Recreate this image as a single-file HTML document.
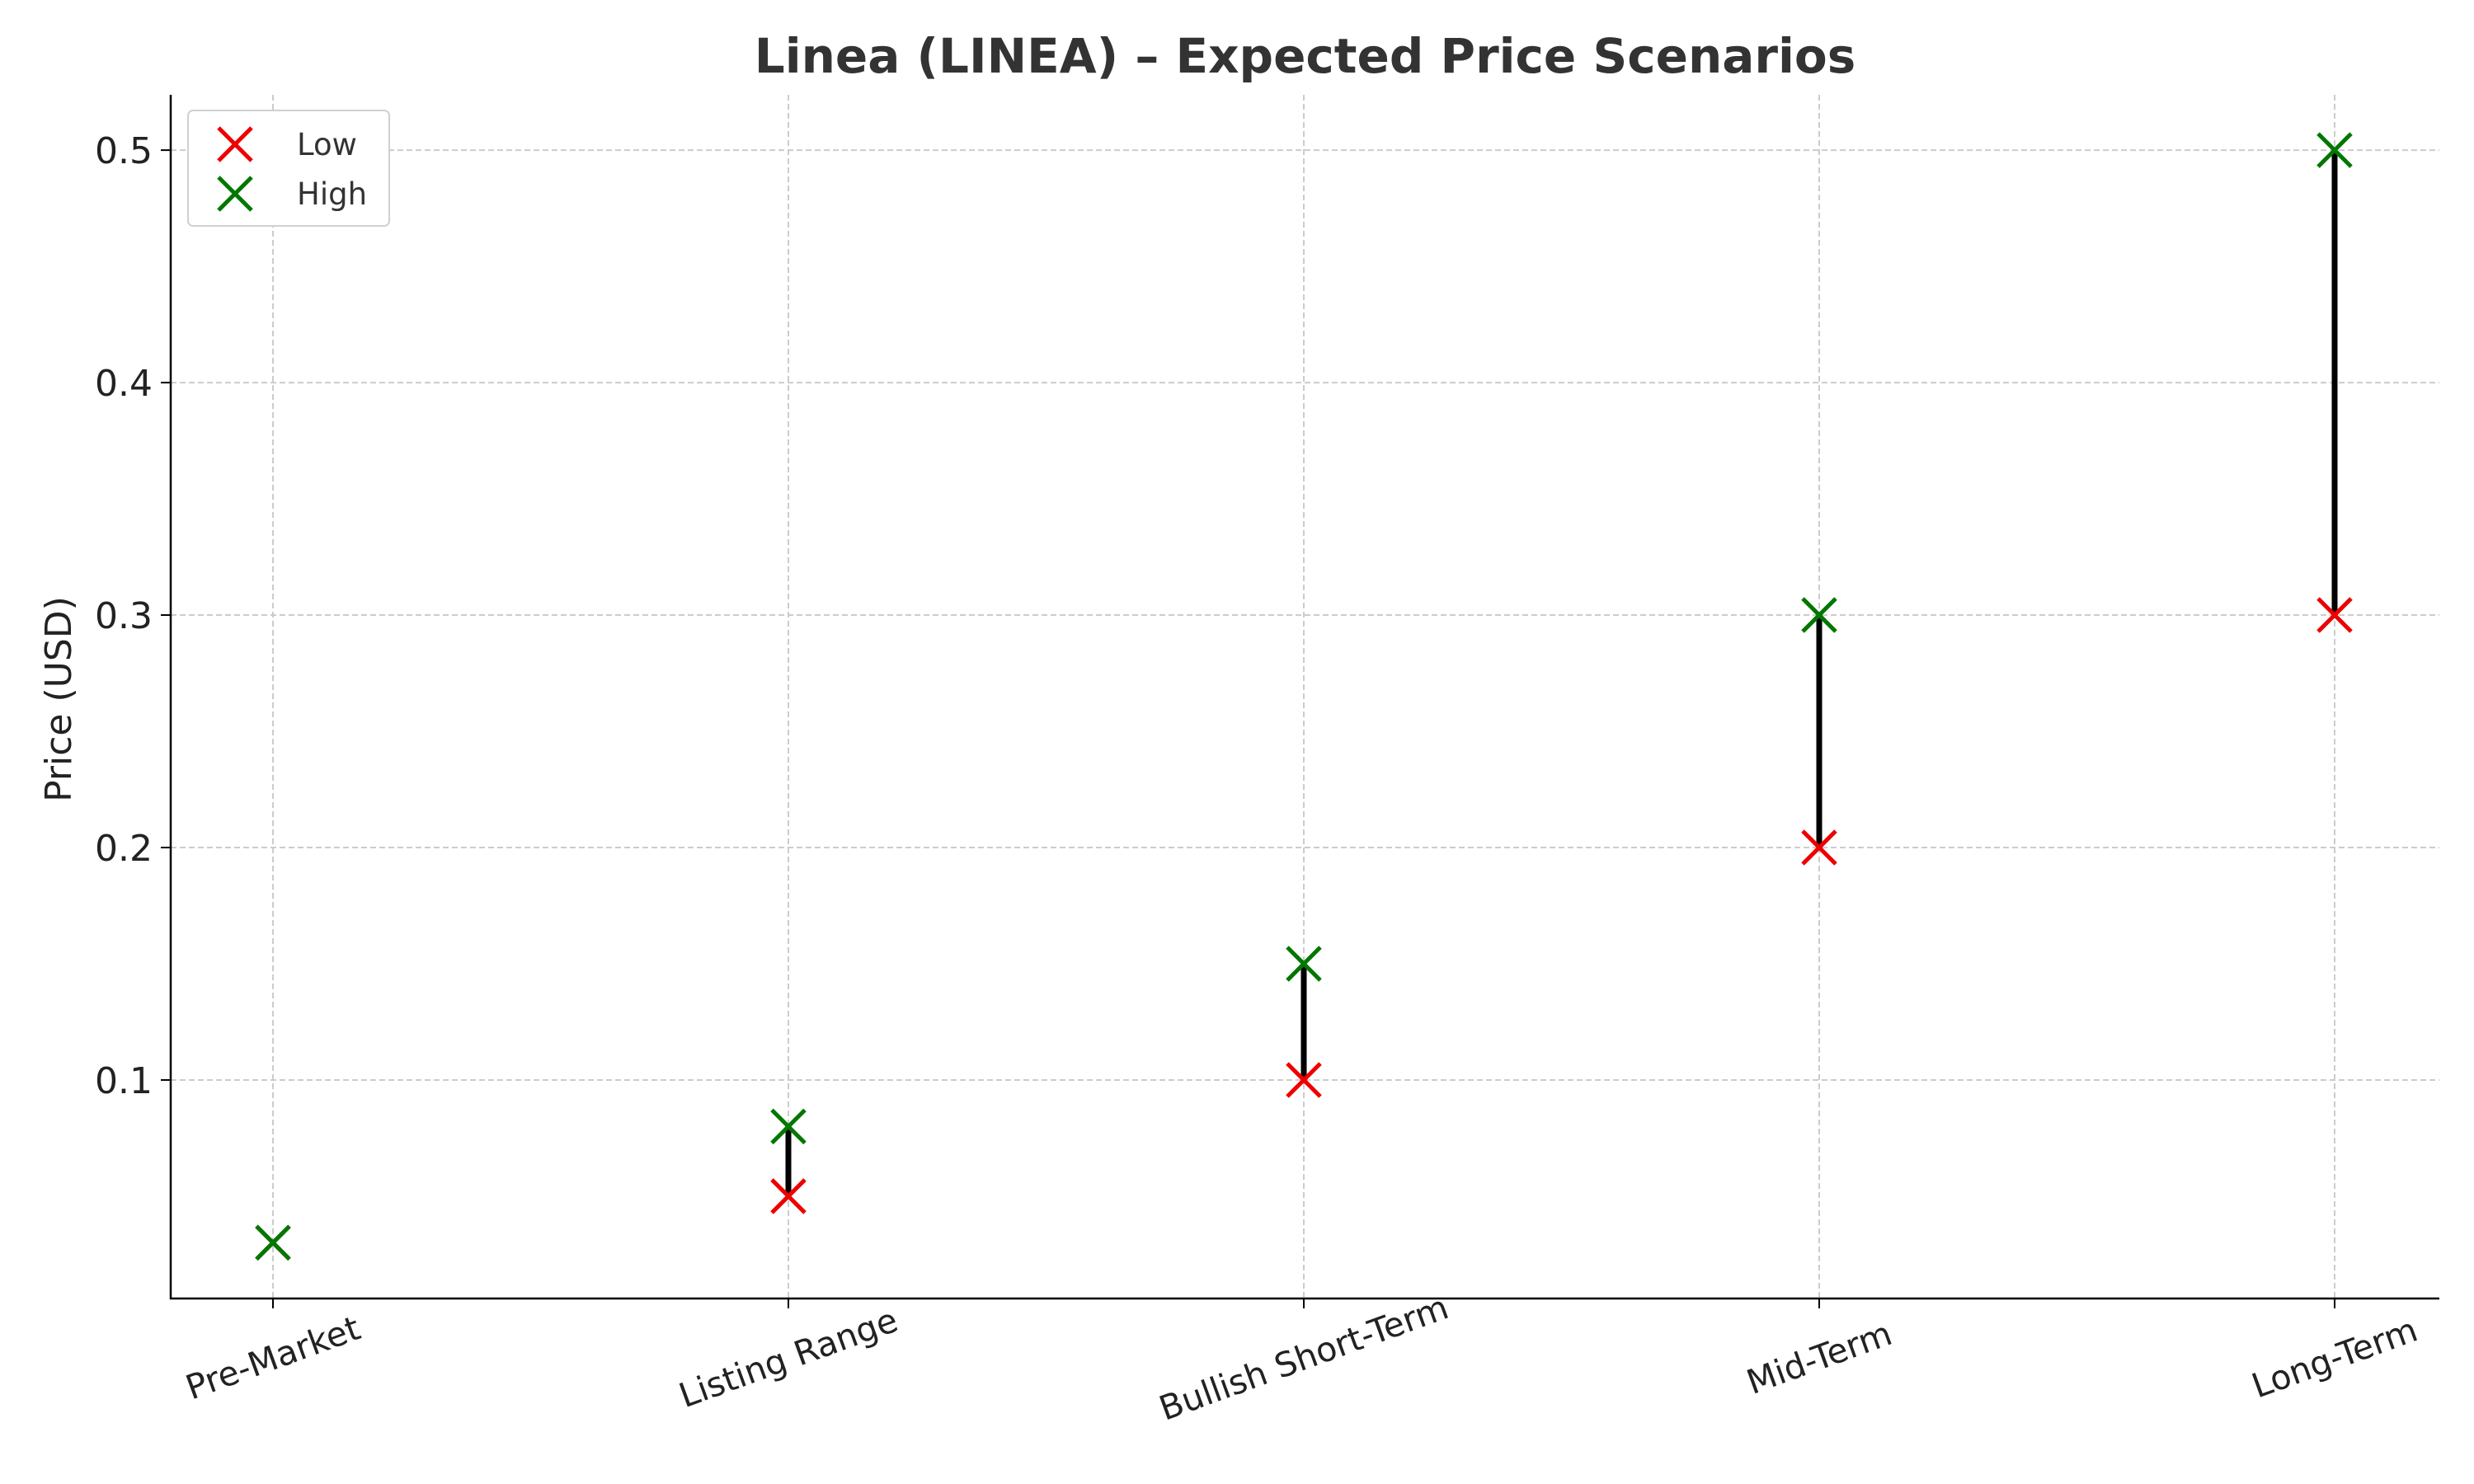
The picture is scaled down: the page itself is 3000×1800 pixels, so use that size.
<!DOCTYPE html>
<html><head><meta charset="utf-8"><style>
html,body{margin:0;padding:0;background:#fff;}
svg{display:block;font-family:"DejaVu Sans","Liberation Sans",sans-serif;}
</style></head><body>
<svg id="chart" width="3000" height="1800" viewBox="0 0 3000 1800"></svg>
<script>
const categories = ["Pre-Market","Listing Range","Bullish Short-Term","Mid-Term","Long-Term"];
const lowValues = [0.03,0.05,0.10,0.20,0.30];
const highValues = [0.03,0.08,0.15,0.30,0.50];
const yTicks = [0.1,0.2,0.3,0.4,0.5];

const svg = document.getElementById('chart');
const NS = 'http://www.w3.org/2000/svg';
const L=207, R=2958, T=115, B=1575;
const yMin=0.006, yMax=0.5238;
const y = v => B - (v - yMin)/(yMax - yMin)*(B - T);
const x = i => 331 + i*625;
function mk(tag, attrs, text){const e=document.createElementNS(NS,tag);for(const k in attrs)e.setAttribute(k,attrs[k]);if(text!==undefined)e.textContent=text;svg.appendChild(e);return e;}

yTicks.forEach((t,i)=>{
  const g=mk('line',{x1:L,x2:R,y1:y(t),y2:y(t),stroke:'#cccccc','stroke-width':2,'stroke-dasharray':'7,4'});
  
  
  const tk=mk('line',{x1:L-12,x2:L,y1:y(t),y2:y(t),stroke:'#000','stroke-width':2});
  
  
  const lb=mk('text',{x:L-22,y:y(t)+16,'text-anchor':'end','font-size':44,fill:'#222'},t.toFixed(1));
  
  
});
categories.forEach((c,i)=>{
  const g=mk('line',{x1:x(i),x2:x(i),y1:T,y2:B,stroke:'#cccccc','stroke-width':2,'stroke-dasharray':'7,4'});
  
  
  const tk=mk('line',{x1:x(i),x2:x(i),y1:B,y2:B+12,stroke:'#000','stroke-width':2});
  
  
  const cy=1647;
  const lb=mk('text',{x:x(i),y:cy+14,'text-anchor':'middle','font-size':41,fill:'#222',transform:`rotate(-20 ${x(i)} ${cy})`},c);
  
  
});
const ax1=mk('line',{x1:L,x2:L,y1:T,y2:B+1,stroke:'#000','stroke-width':2.5});


const ax2=mk('line',{x1:L-1,x2:R,y1:B,y2:B,stroke:'#000','stroke-width':2.5});



function cross(cx,cy,color,name){
  const s=20;
  const p=mk('path',{d:`M${cx-s},${cy-s}L${cx+s},${cy+s}M${cx-s},${cy+s}L${cx+s},${cy-s}`,stroke:color,'stroke-width':5,fill:'none'});
  
  
}
categories.forEach((c,i)=>{
  const ln=mk('line',{x1:x(i),x2:x(i),y1:y(lowValues[i]),y2:y(highValues[i]),stroke:'#000','stroke-width':7});
  
  
});
categories.forEach((c,i)=>cross(x(i),y(lowValues[i]),'#ee0000','low-marker'));
categories.forEach((c,i)=>cross(x(i),y(highValues[i]),'#007700','high-marker'));

const tt=mk('text',{x:(L+R)/2,y:88,'text-anchor':'middle','font-size':58,'font-weight':'bold',fill:'#333'},'Linea (LINEA) – Expected Price Scenarios');


const yl=mk('text',{x:86,y:848,'text-anchor':'middle','font-size':44,fill:'#222',transform:'rotate(-90 86 848)'},'Price (USD)');



const lg=mk('rect',{x:228,y:134,width:244,height:140,rx:6,fill:'#fff',stroke:'#d0d0d0','stroke-width':2});


cross(285,175,'#ee0000','legend-low-marker');
cross(285,235,'#007700','legend-high-marker');
const l1=mk('text',{x:360,y:188,'font-size':37,fill:'#333'},'Low');


const l2=mk('text',{x:360,y:248,'font-size':37,fill:'#333'},'High');


</script>
</body></html>
